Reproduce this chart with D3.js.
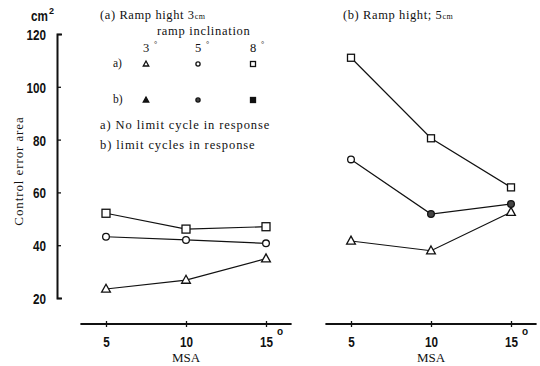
<!DOCTYPE html>
<html>
<head>
<meta charset="utf-8">
<script src="https://cdn.jsdelivr.net/npm/d3@7"></script>
<style>
  body { margin: 0; background: #fff; }
  svg { display: block; }
  .num { font-family: "Liberation Sans", "DejaVu Sans", sans-serif; font-weight: bold; fill: #111; }
  .serif { font-family: "Liberation Serif", "DejaVu Serif", serif; fill: #111; }
</style>
</head>
<body>
<svg id="chart" width="540" height="366"></svg>
<script>
// MSA values on the x axis (degrees)
var msa = [5, 10, 15];
var yTicks = [20, 40, 60, 80, 100, 120];

// (a) ramp hight 3cm
var aTri = [23.4, 26.8, 34.9];   // 3 deg
var aCirc = [43.2, 42.0, 40.7];  // 5 deg
var aSq = [52.1, 46.1, 47.0];    // 8 deg

// (b) ramp hight 5cm
var bTri = [41.6, 37.9, 52.5];
var bCirc = [72.5, 51.8, 55.6];
var bSq = [111.0, 80.5, 61.9];

// true = limit cycles in response (filled marker)
var bCircLimit = [false, true, true];
var noLimit = [false, false, false];

var ink = "#111";
var squeeze = 0.78;  // the figure's digits are a narrow face
var svg = d3.select("#chart");
svg.append("rect").attr("width", 540).attr("height", 366).attr("fill", "#fff");

var y = d3.scaleLinear().domain([20, 120]).range([298, 34]);
var xA = d3.scaleLinear().domain([5, 15]).range([106, 266]);
var xB = d3.scaleLinear().domain([5, 15]).range([351, 511]);

// y axis
var yAxis = d3.axisLeft(y).tickValues(yTicks).tickSize(-4).tickSizeOuter(-5).tickPadding(11);
var gy = svg.append("g").attr("transform", "translate(57,0)").call(yAxis);
gy.attr("font-family", null).attr("font-size", null);
gy.select(".domain").attr("stroke", ink).attr("stroke-width", 2);
gy.selectAll(".tick line").attr("stroke", ink).attr("stroke-width", 1.3);
gy.selectAll(".tick text").attr("class", "num").attr("font-size", 15).attr("dy", "0.36em")
  .attr("x", -11 / squeeze).attr("transform", "scale(" + squeeze + ",1)");

svg.append("text").attr("class", "num").attr("x", 31 / squeeze).attr("y", 21)
  .attr("transform", "scale(" + squeeze + ",1)").attr("font-size", 15).text("cm");
svg.append("text").attr("class", "num").attr("x", 49).attr("y", 14).attr("font-size", 9).text("2");

svg.append("text").attr("class", "serif")
  .attr("transform", "translate(23,171) rotate(-90)")
  .attr("text-anchor", "middle").attr("font-size", 13).attr("letter-spacing", 0.9)
  .text("Control error area");

function drawXAxis(x) {
  var ax = d3.axisBottom(x).tickValues(msa).tickSize(3).tickSizeOuter(0)
    .tickFormat(function (d) { return d; });
  var g = svg.append("g").attr("transform", "translate(0,324)").call(ax);
  g.attr("font-family", null).attr("font-size", null);
  g.select(".domain").remove();
  g.insert("line", ":first-child")
    .attr("x1", x(3.4)).attr("x2", x(16.6))
    .attr("stroke", ink).attr("stroke-width", 2);
  g.selectAll(".tick line").attr("y1", -3).attr("y2", 3).attr("stroke", ink).attr("stroke-width", 1.3);
  g.selectAll(".tick text").attr("class", "num").attr("font-size", 15)
    .attr("y", 23).attr("dy", 0).attr("transform", "scale(" + squeeze + ",1)");
  svg.append("text").attr("class", "num").attr("x", x(15) + 11).attr("y", 335)
    .attr("font-size", 10).attr("font-weight", "normal").text("o");
  svg.append("text").attr("class", "serif").attr("x", x(10)).attr("y", 362)
    .attr("text-anchor", "middle").attr("font-size", 13).text("MSA");
}
drawXAxis(xA);
drawXAxis(xB);

function marker(g, shape, cx, cy, s, filled) {
  if (shape == "tri") {
    g.append("path")
      .attr("d", "M" + cx + "," + (cy - s * 0.6) + "L" + (cx + s * 0.55) + "," + (cy + s * 0.4) + "L" + (cx - s * 0.55) + "," + (cy + s * 0.4) + "Z")
      .attr("fill", filled ? ink : "#fff").attr("stroke", ink).attr("stroke-width", 1.3);
  } else if (shape == "circ") {
    g.append("circle").attr("cx", cx).attr("cy", cy).attr("r", s * 0.42)
      .attr("fill", filled ? "#444" : "#fff").attr("stroke", ink).attr("stroke-width", 1.3);
  } else {
    g.append("rect").attr("x", cx - s / 2).attr("y", cy - s / 2).attr("width", s).attr("height", s)
      .attr("fill", filled ? ink : "#fff").attr("stroke", ink).attr("stroke-width", 1.3);
  }
}

function drawSeries(x, vals, shape, size, limit) {
  var line = d3.line().x(function (d, i) { return x(msa[i]); }).y(function (d) { return y(d); });
  svg.append("path").attr("d", line(vals)).attr("fill", "none")
    .attr("stroke", ink).attr("stroke-width", 1.2);
  var g = svg.append("g");
  for (var i = 0; i < vals.length; i++) {
    marker(g, shape, x(msa[i]), y(vals[i]), size, limit[i]);
  }
}

drawSeries(xA, aTri, "tri", 8, noLimit);
drawSeries(xA, aCirc, "circ", 8, noLimit);
drawSeries(xA, aSq, "sq", 8, noLimit);
drawSeries(xB, bTri, "tri", 8, noLimit);
drawSeries(xB, bCirc, "circ", 8, bCircLimit);
drawSeries(xB, bSq, "sq", 7, noLimit);

// legend / titles
var t1 = svg.append("text").attr("class", "serif").attr("x", 100).attr("y", 19)
  .attr("font-size", 12.5).attr("letter-spacing", 0.6);
t1.append("tspan").text("(a) Ramp hight 3");
t1.append("tspan").attr("font-size", 8).text("cm");

var t2 = svg.append("text").attr("class", "serif").attr("x", 343).attr("y", 19)
  .attr("font-size", 12.5).attr("letter-spacing", 0.6);
t2.append("tspan").text("(b) Ramp hight; 5");
t2.append("tspan").attr("font-size", 8).text("cm");

svg.append("text").attr("class", "serif").attr("x", 157).attr("y", 35)
  .attr("font-size", 12.5).attr("letter-spacing", 0.7).text("ramp inclination");

var incl = ["3", "5", "8"];
var inclShape = ["tri", "circ", "sq"];
var legX = [146, 198, 253];
for (var i = 0; i < incl.length; i++) {
  svg.append("text").attr("class", "serif").attr("x", legX[i]).attr("y", 52)
    .attr("text-anchor", "middle").attr("font-size", 12.5).text(incl[i]);
  svg.append("text").attr("class", "serif").attr("x", legX[i] + 8).attr("y", 47)
    .attr("font-size", 8).text("°");
  marker(svg, inclShape[i], legX[i], 64, 5, false);
  marker(svg, inclShape[i], legX[i], 100, 5, true);
}
svg.append("text").attr("class", "serif").attr("x", 113).attr("y", 67).attr("font-size", 11.5).text("a)");
svg.append("text").attr("class", "serif").attr("x", 113).attr("y", 103).attr("font-size", 11.5).text("b)");

svg.append("text").attr("class", "serif").attr("x", 100).attr("y", 129)
  .attr("font-size", 12.5).attr("letter-spacing", 0.9).text("a) No limit cycle in response");
svg.append("text").attr("class", "serif").attr("x", 100).attr("y", 149)
  .attr("font-size", 12.5).attr("letter-spacing", 0.9).text("b) limit cycles in response");
</script>
</body>
</html>
